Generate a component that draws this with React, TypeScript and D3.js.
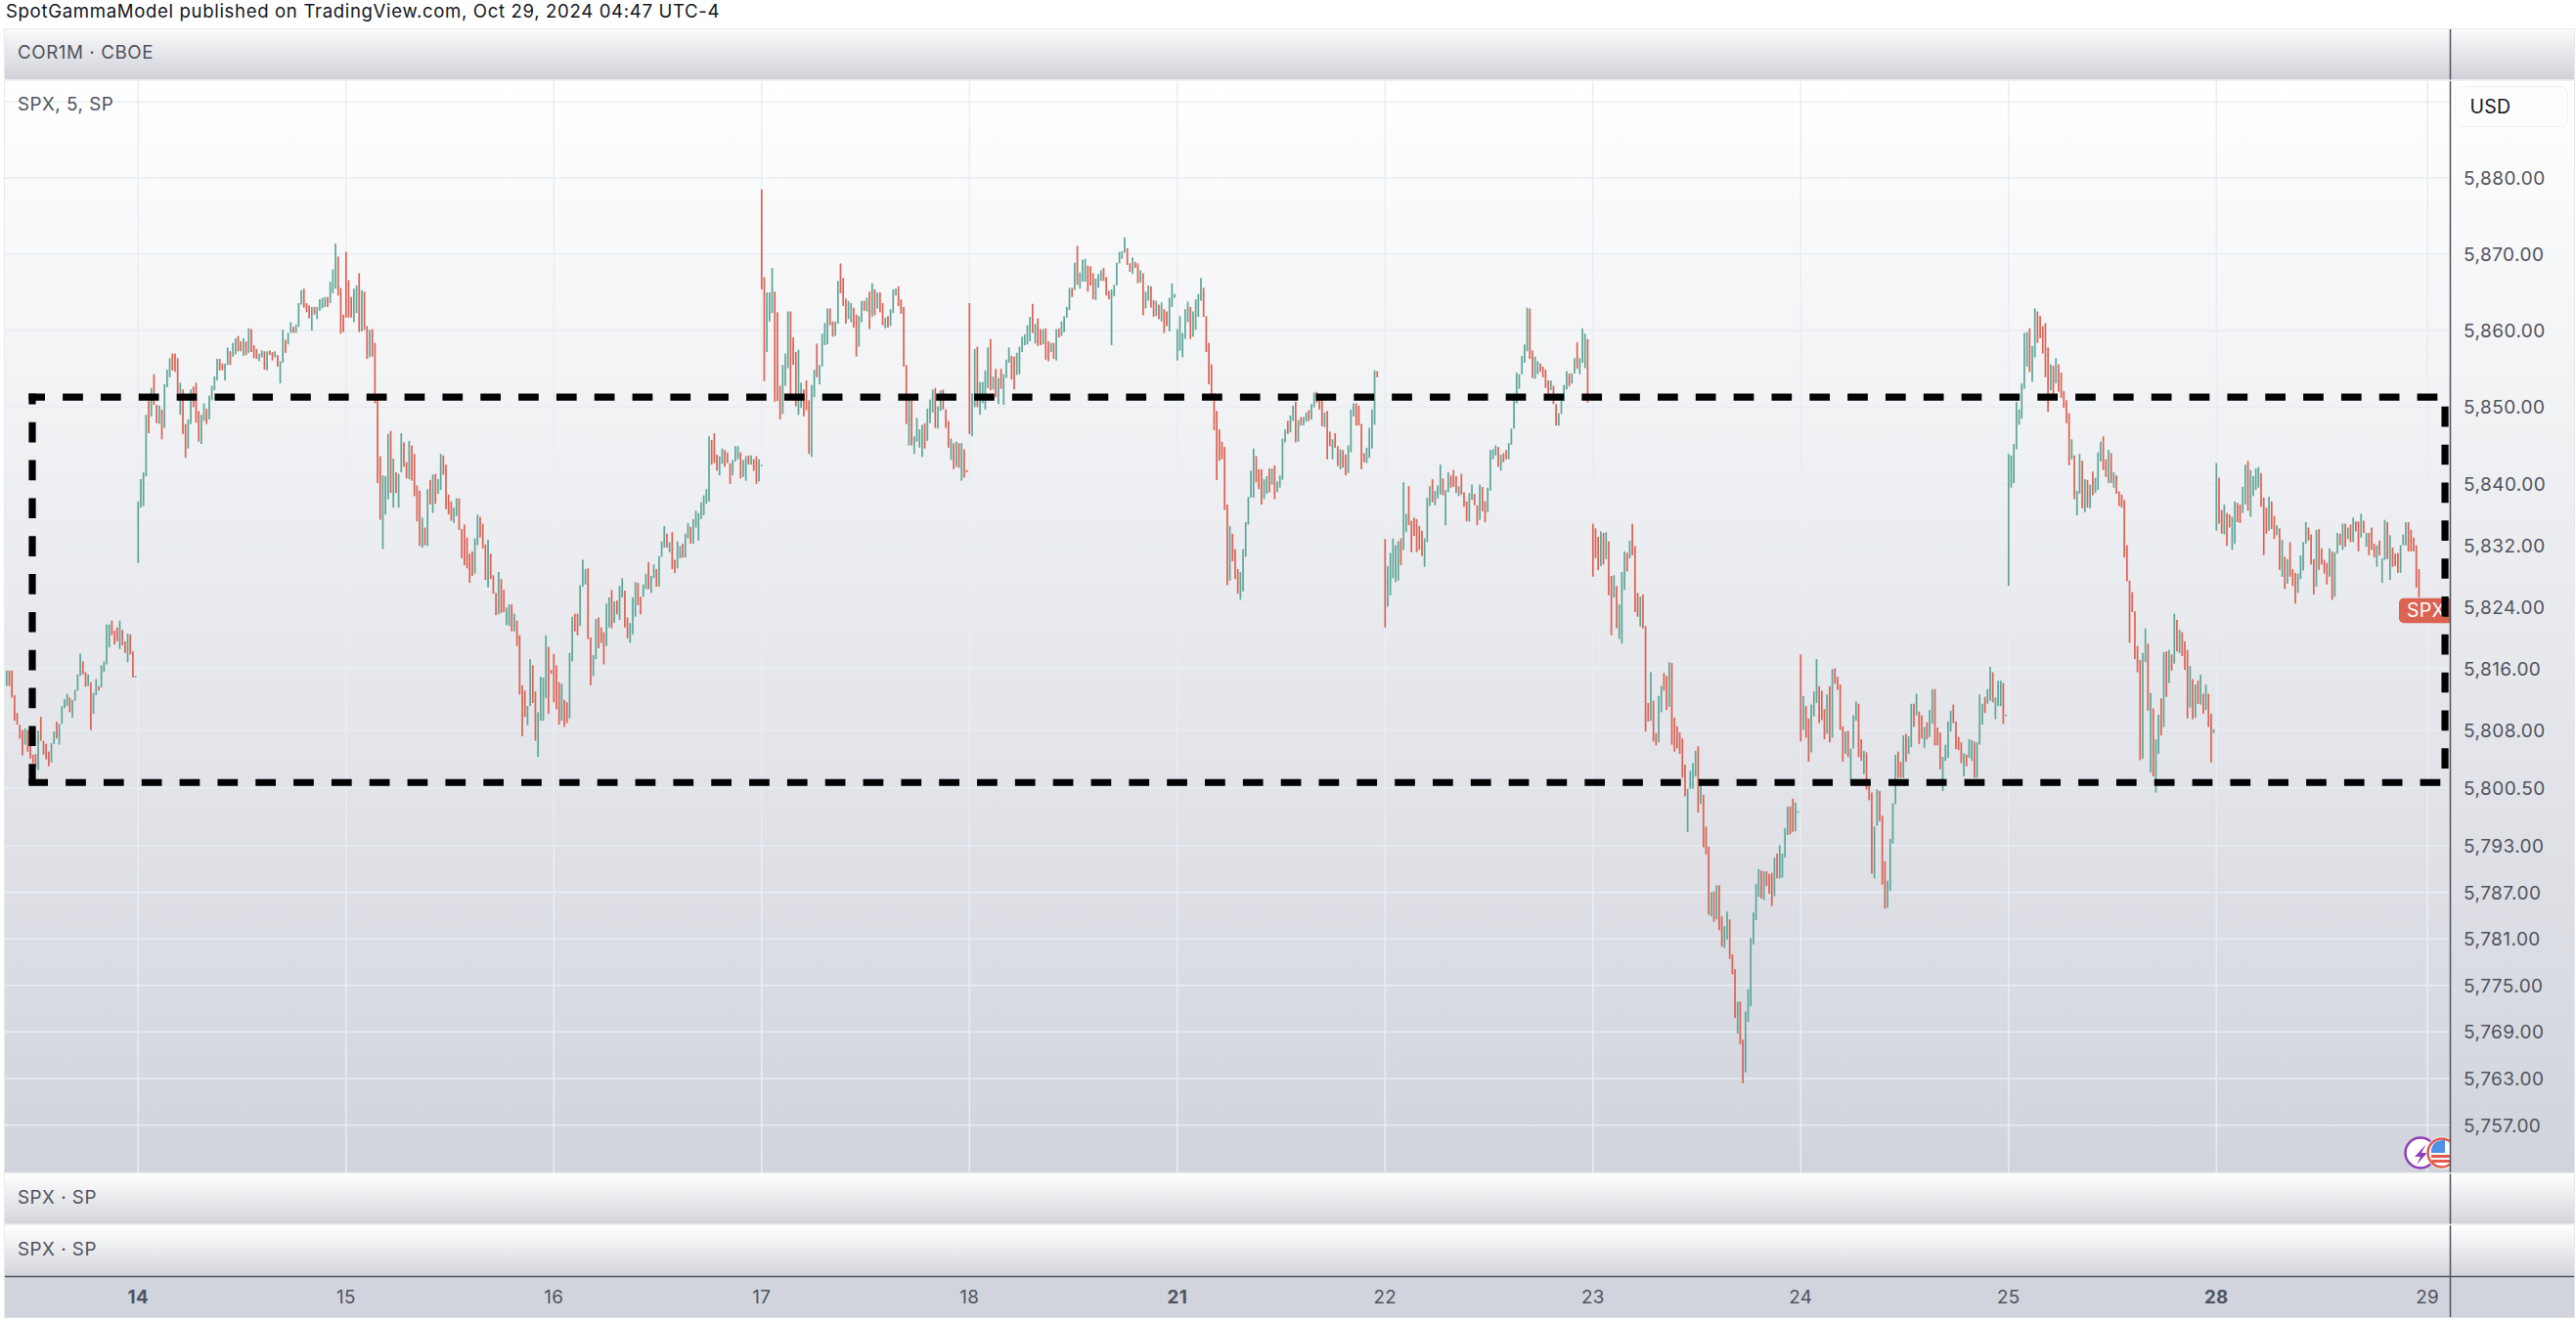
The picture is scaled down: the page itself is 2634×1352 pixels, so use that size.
import * as d3 from "d3";

// [high, low, up=1 / down=0] per 5 minute bar
type Bar = [number, number, number];

const oct11Bars: Bar[] = [
  [5815.7,5813.7,1],[5815.7,5813.7,0],[5815.7,5812.2,0],[5812.5,5809.2,0],[5810.2,5808.7,0],[5808.7,5806.9,0],[5808.0,5804.7,0],[5808.2,5806.1,1],[5808.0,5805.2,0],[5806.2,5804.3,0],
  [5804.8,5803.7,0],[5804.9,5803.2,0],[5807.9,5802.8,1],[5809.7,5806.6,0],[5806.6,5804.8,0],[5806.2,5804.2,0],[5805.2,5803.3,0],[5806.3,5803.8,1],[5807.8,5806.2,1],[5809.1,5806.9,0],
  [5808.8,5806.1,1],[5811.1,5808.8,1],[5812.0,5810.8,1],[5812.7,5811.1,1],[5812.2,5810.3,0],[5811.9,5809.6,1],[5813.2,5811.8,1],[5815.2,5813.1,1],[5817.9,5815.0,1],[5816.9,5815.2,0],
  [5815.5,5813.6,0],[5815.2,5813.7,1],[5814.2,5808.0,0],[5812.8,5810.1,1],[5814.6,5812.5,1],[5813.7,5813.1,0],[5816.4,5813.5,1],[5816.9,5815.5,1],[5821.7,5816.5,1],[5821.7,5818.7,1],
  [5822.2,5820.3,0],[5820.9,5819.1,0],[5821.3,5819.5,0],[5822.2,5818.5,1],[5821.0,5819.0,0],[5819.5,5818.0,0],[5820.5,5816.8,1],[5820.4,5817.8,0],[5818.2,5814.8,0],[5815.0,5814.8,1],
];

const oct14Bars: Bar[] = [
  [5837.7,5829.7,1],[5840.6,5836.9,1],[5841.5,5837.1,1],[5849.0,5841.0,1],[5850.8,5846.6,0],[5852.5,5848.8,1],[5854.3,5850.3,0],[5850.3,5847.9,0],[5850.2,5847.8,1],[5849.7,5845.8,0],
  [5853.0,5847.3,1],[5854.9,5852.6,1],[5856.4,5853.9,1],[5857.0,5854.8,0],[5857.0,5854.6,0],[5856.4,5851.8,0],[5853.2,5849.0,1],[5852.3,5846.5,0],[5847.8,5843.4,0],[5848.4,5844.6,1],
  [5852.3,5847.8,1],[5852.7,5850.0,0],[5853.2,5848.0,0],[5849.5,5845.5,0],[5849.0,5845.2,1],[5850.5,5848.2,1],[5849.8,5847.8,0],[5851.5,5848.4,1],[5852.8,5850.9,1],[5854.0,5852.2,1],
  [5856.3,5853.5,1],[5856.3,5854.8,0],[5855.7,5854.8,0],[5855.7,5853.5,1],[5857.8,5855.5,1],[5857.3,5855.5,0],[5858.4,5856.6,1],[5859.0,5856.9,1],[5859.3,5857.3,0],[5858.6,5857.3,0],
  [5859.0,5856.7,1],[5858.6,5856.8,0],[5860.3,5857.1,1],[5860.2,5857.2,0],[5858.1,5856.4,0],[5857.6,5856.3,0],[5857.0,5856.0,1],[5857.4,5856.5,1],[5857.3,5854.9,0],[5857.3,5854.8,1],
  [5857.4,5856.8,0],[5857.2,5856.1,0],[5857.3,5856.5,1],[5856.8,5855.3,0],[5856.0,5853.1,1],[5860.1,5855.8,1],[5858.8,5857.1,0],[5859.7,5858.2,1],[5861.1,5859.7,1],[5860.5,5859.7,0],
  [5860.8,5859.7,1],[5863.6,5860.5,1],[5865.3,5863.4,1],[5865.5,5863.0,0],[5863.6,5862.4,0],[5863.3,5861.6,0],[5863.1,5860.0,1],[5863.1,5862.1,0],[5863.1,5861.5,1],[5864.1,5862.6,1],
  [5864.3,5862.9,1],[5864.4,5863.1,1],[5864.4,5863.1,0],[5866.4,5863.6,1],[5868.0,5864.9,1],[5871.4,5865.5,1],[5869.7,5864.6,0],[5865.6,5859.6,0],[5862.1,5859.8,0],
];

const oct15Bars: Bar[] = [
  [5870.3,5861.7,0],[5866.6,5861.7,0],[5864.4,5861.7,0],[5865.5,5861.1,1],[5865.9,5862.3,1],[5867.5,5859.8,0],[5865.3,5859.9,1],[5865.1,5860.1,0],[5860.6,5856.3,0],[5860.1,5856.5,1],
  [5860.2,5856.6,0],[5858.4,5850.5,0],[5851.3,5840.1,0],[5843.6,5835.3,0],[5841.1,5831.5,1],[5841.0,5836.0,1],[5846.5,5838.0,1],[5846.9,5838.8,0],[5843.3,5836.9,1],[5841.5,5838.8,0],
  [5841.3,5836.9,1],[5846.6,5841.5,1],[5845.4,5842.2,0],[5842.8,5840.7,0],[5845.6,5840.6,1],[5845.0,5840.4,0],[5843.9,5838.4,0],[5839.8,5835.1,0],[5839.1,5831.9,0],[5835.6,5831.7,1],
  [5834.3,5832.0,0],[5839.3,5831.9,1],[5840.5,5837.3,0],[5841.2,5836.2,1],[5841.3,5837.4,0],[5840.6,5838.7,1],[5843.9,5839.2,1],[5843.7,5841.2,0],[5842.5,5836.7,0],[5838.6,5836.0,0],
  [5837.7,5835.2,0],[5836.9,5834.9,1],[5838.1,5835.8,1],[5838.1,5834.0,0],[5834.1,5830.3,0],[5834.7,5829.4,0],[5833.0,5829.0,0],[5830.9,5827.1,0],[5831.2,5828.0,0],[5832.9,5828.3,1],
  [5836.0,5832.0,1],[5835.7,5833.0,0],[5834.8,5831.6,0],[5832.1,5827.5,0],[5832.7,5826.5,1],[5830.9,5827.6,0],[5828.1,5825.7,0],[5825.8,5822.9,0],[5828.5,5823.0,1],[5827.6,5823.2,0],
  [5826.2,5823.3,0],[5823.9,5821.6,1],[5824.3,5821.5,1],[5824.3,5820.8,0],[5823.1,5820.8,1],[5822.2,5818.9,0],[5820.3,5812.6,0],[5813.8,5807.2,0],[5813.1,5809.7,0],[5811.1,5808.6,1],
  [5817.2,5811.1,1],[5816.4,5811.5,0],[5813.0,5806.6,0],[5810.3,5804.5,1],[5814.9,5809.2,1],[5814.8,5809.2,1],[5820.3,5812.1,1],[5818.8,5810.1,0],[5815.8,5815.3,0],
];

const oct16Bars: Bar[] = [
  [5817.9,5811.6,0],[5816.4,5810.7,0],[5814.2,5808.7,0],[5814.0,5809.2,1],[5811.9,5808.4,0],[5811.6,5808.9,0],[5818.0,5809.5,1],[5822.7,5816.9,1],[5823.1,5820.8,0],[5823.1,5820.3,0],
  [5826.8,5821.5,1],[5830.1,5826.6,1],[5828.9,5826.9,1],[5829.0,5819.8,0],[5820.0,5813.8,0],[5817.7,5815.0,1],[5822.4,5817.2,1],[5822.6,5818.6,0],[5821.3,5819.3,0],[5820.7,5816.5,0],
  [5824.4,5818.9,1],[5825.2,5821.3,1],[5826.2,5821.2,0],[5824.7,5821.9,1],[5824.8,5823.0,0],[5826.7,5822.3,1],[5827.7,5825.2,1],[5826.1,5821.3,0],[5822.6,5819.9,0],[5821.9,5819.3,1],
  [5825.2,5820.4,1],[5827.2,5822.7,1],[5827.1,5824.2,0],[5825.3,5823.0,0],[5826.9,5825.3,1],[5828.3,5826.3,1],[5829.8,5826.3,0],[5828.0,5825.8,1],[5829.5,5827.7,1],[5828.9,5826.6,0],
  [5830.6,5826.6,1],[5832.5,5830.5,1],[5834.5,5831.7,1],[5833.5,5831.7,0],[5832.4,5831.1,1],[5833.7,5828.9,0],[5830.1,5828.4,0],[5832.5,5829.0,1],[5831.9,5830.3,1],[5832.2,5830.4,0],
  [5833.5,5830.4,1],[5834.9,5832.9,1],[5834.4,5832.2,0],[5835.4,5832.2,1],[5836.5,5834.3,1],[5836.2,5832.6,1],[5837.6,5835.4,1],[5838.5,5835.9,1],[5839.3,5837.4,1],[5846.2,5837.7,1],
  [5845.7,5842.5,0],[5846.6,5842.7,0],[5843.8,5841.7,0],[5843.6,5841.1,1],[5844.6,5842.6,1],[5844.4,5842.2,0],[5844.1,5842.7,0],[5842.7,5840.0,0],[5843.1,5841.1,1],[5844.9,5842.9,1],
  [5844.9,5843.2,1],[5844.1,5840.7,0],[5843.1,5840.9,1],[5843.6,5840.4,1],[5843.7,5842.5,0],[5843.7,5842.5,1],[5843.2,5841.7,0],[5843.6,5840.0,0],[5843.2,5840.3,1],[5842.5,5842.3,1],
];

const oct17Bars: Bar[] = [
  [5878.5,5865.4,0],[5867.0,5853.4,0],[5865.0,5857.2,1],[5865.0,5861.2,1],[5868.2,5862.3,1],[5865.1,5850.7,0],[5862.4,5850.8,0],[5852.8,5848.4,0],[5855.5,5849.1,1],[5857.0,5852.8,1],
  [5862.5,5855.1,1],[5862.5,5851.5,0],[5859.1,5855.5,0],[5857.2,5850.1,0],[5857.5,5849.0,1],[5853.2,5849.9,1],[5852.3,5848.8,0],[5853.5,5849.6,0],[5850.9,5843.9,0],[5852.9,5843.5,1],
  [5854.9,5851.3,1],[5858.3,5853.9,0],[5855.5,5853.0,1],[5859.6,5855.3,1],[5861.0,5858.1,1],[5862.9,5858.2,1],[5862.9,5860.7,0],[5861.2,5859.2,0],[5861.2,5859.3,1],[5866.5,5860.9,1],
  [5868.8,5864.9,0],[5866.9,5863.2,0],[5864.2,5860.9,0],[5863.9,5861.5,1],[5863.6,5861.1,1],[5863.0,5860.4,0],[5862.1,5856.6,0],[5861.9,5857.9,1],[5863.9,5861.1,1],[5863.9,5862.6,0],
  [5864.3,5862.5,1],[5865.1,5860.2,0],[5866.2,5861.8,1],[5865.4,5862.0,0],[5865.0,5862.9,1],[5865.0,5862.4,0],[5863.6,5860.7,0],[5861.7,5860.3,1],[5861.9,5860.4,0],[5862.8,5860.6,1],
  [5865.4,5862.3,1],[5865.5,5864.6,1],[5865.8,5863.2,0],[5864.1,5862.2,0],[5863.1,5855.3,0],[5855.5,5847.8,0],[5851.0,5845.0,1],[5850.9,5845.0,0],[5846.2,5843.9,1],[5848.6,5845.5,1],
  [5847.1,5844.7,1],[5847.7,5843.5,1],[5847.9,5844.6,0],[5849.8,5845.6,1],[5851.0,5847.9,1],[5852.3,5849.3,1],[5852.5,5847.3,0],[5850.1,5847.2,1],[5852.2,5849.5,1],[5852.3,5849.7,0],
  [5849.7,5847.3,0],[5848.2,5844.7,0],[5845.9,5843.1,1],[5845.3,5841.9,0],[5845.5,5842.2,1],[5845.3,5842.1,0],[5845.3,5840.4,1],[5844.5,5840.8,0],[5841.8,5841.5,0],
];

const oct18Bars: Bar[] = [
  [5863.6,5846.5,0],[5851.8,5846.2,1],[5857.6,5850.0,1],[5857.9,5850.0,0],[5853.3,5849.0,1],[5853.3,5850.5,1],[5854.8,5849.7,1],[5857.8,5852.5,1],[5858.9,5852.2,0],[5854.0,5852.3,1],
  [5855.0,5851.3,0],[5853.8,5850.4,1],[5855.0,5852.4,0],[5854.3,5850.3,1],[5856.2,5853.8,1],[5857.8,5855.8,1],[5856.7,5853.6,0],[5856.6,5852.3,0],[5857.1,5854.2,1],[5857.9,5854.3,1],
  [5859.2,5857.2,1],[5859.5,5858.1,1],[5860.7,5858.2,1],[5861.8,5858.6,1],[5863.5,5859.7,0],[5860.9,5858.3,1],[5861.6,5858.0,0],[5860.2,5858.1,0],[5860.2,5858.2,1],[5860.3,5856.2,0],
  [5858.6,5856.0,0],[5858.4,5857.2,1],[5858.4,5856.3,0],[5860.2,5856.1,1],[5860.3,5859.1,0],[5861.2,5859.3,1],[5861.9,5859.8,1],[5863.1,5861.7,1],[5865.6,5862.7,1],[5865.6,5864.4,0],
  [5868.9,5865.3,1],[5871.1,5866.0,0],[5867.6,5865.5,1],[5869.3,5866.4,1],[5869.4,5866.4,1],[5868.5,5865.1,0],[5868.4,5865.9,0],[5867.5,5864.1,0],[5866.8,5864.0,1],[5867.4,5865.6,1],
  [5867.9,5866.5,1],[5868.2,5866.5,0],[5867.0,5864.6,0],[5865.2,5864.1,0],[5865.4,5858.1,1],[5866.0,5864.5,1],[5868.9,5865.9,1],[5870.3,5868.8,1],[5870.4,5869.4,1],[5872.2,5870.2,1],
  [5870.8,5868.6,0],[5868.8,5867.7,0],[5869.6,5867.4,1],[5869.0,5868.2,0],[5868.8,5866.2,0],[5867.9,5866.3,1],[5867.5,5862.0,0],[5865.1,5862.9,1],[5865.9,5863.9,1],[5865.8,5863.0,0],
  [5864.0,5861.8,0],[5863.9,5861.9,1],[5863.4,5861.5,0],[5863.7,5861.2,1],[5862.8,5859.7,0],[5862.5,5860.6,0],[5864.3,5859.9,1],[5866.2,5863.1,1],[5864.8,5864.3,1],
];

const oct21Bars: Bar[] = [
  [5860.2,5856.1,1],[5861.9,5857.4,1],[5859.7,5856.5,1],[5862.8,5858.9,1],[5863.8,5861.1,1],[5863.1,5858.9,0],[5862.5,5859.2,1],[5864.1,5860.1,1],[5864.8,5861.8,1],[5866.9,5863.9,1],
  [5865.6,5861.8,0],[5861.9,5857.2,0],[5858.4,5853.0,0],[5855.6,5851.6,0],[5851.8,5847.0,0],[5849.5,5840.5,0],[5847.1,5843.0,0],[5845.5,5843.2,0],[5844.8,5836.6,0],[5837.3,5826.8,0],
  [5834.5,5827.4,1],[5833.5,5829.9,0],[5831.5,5827.6,0],[5828.9,5825.7,0],[5828.5,5824.9,1],[5831.5,5826.0,1],[5835.0,5830.5,1],[5838.3,5834.7,1],[5841.7,5838.2,1],[5844.6,5838.2,1],
  [5843.6,5840.2,0],[5841.9,5839.3,0],[5841.9,5837.3,0],[5840.6,5838.0,1],[5841.0,5838.7,1],[5842.0,5838.9,0],[5842.0,5839.9,1],[5842.4,5838.0,0],[5840.3,5838.9,1],[5841.1,5839.5,1],
  [5845.9,5840.5,1],[5847.1,5845.4,1],[5848.2,5846.5,0],[5848.9,5846.7,1],[5850.2,5848.2,1],[5850.7,5845.4,0],[5848.3,5845.5,1],[5848.7,5847.6,0],[5848.7,5847.6,1],[5849.3,5848.1,1],
  [5849.6,5848.2,0],[5850.4,5848.4,1],[5851.9,5850.0,1],[5852.0,5850.6,0],[5850.9,5849.7,0],[5850.9,5847.5,0],[5849.3,5847.4,1],[5849.5,5843.2,0],[5846.8,5844.9,0],[5845.8,5843.2,1],
  [5846.6,5844.7,0],[5844.9,5842.3,0],[5844.5,5841.9,1],[5844.4,5842.1,0],[5843.8,5841.1,0],[5845.0,5841.4,1],[5849.7,5844.1,1],[5850.5,5848.8,1],[5850.5,5847.6,0],[5850.2,5847.6,0],
  [5847.8,5841.9,0],[5844.0,5842.8,0],[5844.7,5842.7,1],[5847.3,5843.4,1],[5849.7,5844.6,1],[5854.8,5847.7,1],[5854.7,5853.9,0],
];

const oct22Bars: Bar[] = [
  [5832.8,5821.3,0],[5829.3,5824.0,1],[5831.0,5825.5,1],[5832.9,5827.7,1],[5832.0,5827.2,1],[5832.5,5827.4,1],[5832.9,5829.4,0],[5840.2,5831.4,1],[5836.1,5833.7,1],[5839.7,5834.6,0],
  [5835.2,5831.1,0],[5835.6,5833.2,0],[5835.4,5831.1,0],[5834.5,5831.4,0],[5833.9,5830.6,0],[5832.9,5829.2,1],[5838.2,5832.4,1],[5839.7,5837.1,1],[5840.6,5837.6,0],[5839.1,5837.2,1],
  [5839.8,5838.1,1],[5842.5,5838.6,1],[5840.7,5838.5,0],[5839.2,5834.6,1],[5841.5,5838.9,1],[5841.1,5839.5,0],[5841.8,5839.6,0],[5841.0,5838.8,0],[5839.7,5838.4,1],[5841.3,5838.6,0],
  [5838.9,5837.0,0],[5837.7,5835.1,0],[5838.8,5835.1,1],[5839.9,5837.9,1],[5838.7,5837.2,0],[5837.2,5834.6,0],[5839.9,5835.3,1],[5839.6,5836.4,0],[5837.7,5835.0,0],[5839.5,5836.3,1],
  [5844.4,5839.1,1],[5844.5,5843.2,1],[5845.0,5843.7,1],[5844.8,5842.2,0],[5843.8,5841.7,1],[5844.0,5842.8,0],[5844.4,5843.2,0],[5845.3,5843.2,1],[5847.2,5845.1,1],[5850.9,5847.2,1],
  [5854.5,5850.5,1],[5854.3,5852.4,1],[5856.7,5854.3,1],[5858.2,5855.8,1],[5863.0,5857.3,1],[5862.9,5856.3,0],[5857.4,5853.8,0],[5856.6,5853.7,1],[5856.0,5854.3,1],[5855.7,5854.6,0],
  [5855.3,5853.9,0],[5854.9,5852.5,0],[5853.5,5851.8,0],[5853.5,5852.2,1],[5852.8,5850.4,0],[5850.4,5847.6,0],[5849.2,5847.6,1],[5850.8,5849.1,1],[5852.9,5850.8,1],[5854.7,5852.3,1],
  [5854.4,5852.7,0],[5854.4,5853.1,1],[5856.4,5854.4,1],[5858.5,5855.0,0],[5856.4,5854.3,1],[5860.3,5855.8,1],[5859.6,5855.1,1],[5858.9,5850.6,0],
];

const oct23Bars: Bar[] = [
  [5834.8,5827.9,0],[5834.2,5830.3,0],[5833.1,5828.8,0],[5833.8,5829.3,1],[5833.6,5829.5,0],[5833.7,5830.2,1],[5832.5,5825.5,0],[5828.0,5820.3,0],[5828.1,5825.2,1],[5826.7,5821.2,0],
  [5824.3,5819.8,1],[5828.5,5819.2,1],[5831.2,5826.2,1],[5831.0,5828.6,0],[5832.6,5830.3,1],[5834.8,5830.7,0],[5831.9,5823.3,0],[5825.8,5822.7,0],[5825.3,5821.4,1],[5825.6,5821.2,0],
  [5821.5,5807.8,0],[5811.5,5809.1,0],[5815.5,5809.2,1],[5811.8,5806.5,0],[5807.6,5806.0,0],[5812.4,5806.4,1],[5813.7,5810.3,1],[5815.4,5813.1,0],[5815.0,5810.6,0],[5816.8,5811.0,1],
  [5816.7,5806.1,0],[5809.6,5805.2,0],[5808.5,5805.6,0],[5807.7,5804.9,0],[5806.9,5801.8,0],[5803.5,5799.4,0],[5800.4,5794.8,1],[5802.7,5800.4,1],[5803.7,5800.4,1],[5805.3,5802.0,1],
  [5805.9,5797.3,0],[5801.3,5798.4,1],[5799.6,5792.8,0],[5795.5,5791.9,0],[5792.9,5784.1,0],[5787.0,5783.9,1],[5787.1,5783.2,0],[5787.9,5783.5,1],[5787.9,5782.1,0],[5783.9,5780.0,0],
  [5782.6,5779.8,1],[5784.5,5780.9,1],[5783.5,5778.4,0],[5779.0,5776.4,0],[5777.1,5770.8,0],[5772.9,5768.8,1],[5772.9,5767.4,0],[5768.0,5762.4,0],[5771.6,5763.8,1],[5774.5,5770.3,1],
  [5781.1,5772.3,1],[5784.4,5780.3,1],[5788.1,5783.4,1],[5790.0,5786.4,1],[5789.8,5786.2,0],[5789.7,5786.0,1],[5789.7,5787.8,0],[5789.4,5786.8,0],[5789.5,5785.2,0],[5791.5,5786.5,1],
  [5792.0,5788.8,0],[5793.1,5788.8,1],[5792.0,5788.9,1],[5795.3,5791.5,1],[5798.1,5794.4,1],[5798.1,5794.5,0],[5799.1,5794.8,0],[5798.6,5794.9,1],[5797.5,5797.3,1],
];

const oct24Bars: Bar[] = [
  [5817.8,5806.5,0],[5812.4,5808.0,1],[5811.1,5807.0,0],[5809.5,5803.9,0],[5811.3,5805.1,1],[5813.0,5809.8,1],[5817.2,5811.5,1],[5813.7,5808.9,0],[5813.1,5809.3,0],[5810.7,5806.8,0],
  [5812.6,5807.5,1],[5813.7,5806.4,0],[5815.9,5807.0,1],[5816.0,5814.0,0],[5814.9,5813.2,0],[5813.9,5808.0,0],[5808.5,5803.9,0],[5807.8,5804.9,1],[5807.9,5804.5,0],[5805.6,5801.0,1],
  [5809.9,5805.6,1],[5811.7,5809.2,1],[5811.4,5804.5,0],[5806.8,5804.0,0],[5805.3,5802.3,1],[5805.1,5800.3,0],[5800.8,5798.9,0],[5799.9,5789.4,0],[5795.5,5788.8,1],[5800.3,5795.6,1],
  [5800.1,5796.2,0],[5796.9,5788.0,0],[5791.0,5784.9,0],[5788.5,5785.0,1],[5793.9,5787.2,1],[5798.5,5793.3,1],[5804.8,5798.4,1],[5805.2,5801.8,0],[5803.9,5801.8,0],[5807.3,5801.8,1],
  [5807.5,5803.9,0],[5807.2,5804.9,1],[5811.4,5805.8,1],[5811.4,5808.4,0],[5812.7,5809.9,1],[5810.4,5806.2,0],[5809.9,5806.9,0],[5808.4,5805.7,1],[5809.0,5806.8,0],[5810.6,5807.1,1],
  [5813.3,5808.8,1],[5813.3,5806.0,0],[5808.3,5806.0,0],[5807.7,5802.9,0],[5804.5,5800.1,1],[5806.1,5804.0,1],[5809.1,5804.4,1],[5810.5,5807.8,1],[5811.3,5808.9,0],[5809.1,5805.5,0],
  [5807.1,5805.4,0],[5806.4,5803.7,0],[5805.0,5802.0,1],[5804.8,5803.3,0],[5806.8,5804.4,1],[5806.7,5804.0,1],[5806.5,5801.8,0],[5806.4,5801.8,1],[5812.6,5806.1,1],[5811.4,5808.7,1],
  [5812.3,5810.2,0],[5813.3,5811.4,1],[5816.2,5811.8,1],[5815.5,5811.6,0],[5812.2,5809.4,1],[5814.4,5811.1,1],[5814.4,5811.1,1],[5814.1,5808.8,0],[5810.0,5809.8,1],
];

const oct25Bars: Bar[] = [
  [5843.9,5826.7,1],[5843.7,5839.5,1],[5845.2,5840.1,1],[5850.7,5844.5,1],[5849.7,5847.7,1],[5853.1,5848.5,1],[5859.7,5852.4,1],[5859.8,5855.3,1],[5860.3,5854.6,0],[5858.0,5853.3,1],
  [5862.9,5856.5,1],[5862.5,5858.4,0],[5861.9,5859.0,0],[5860.6,5857.0,0],[5861.0,5853.9,0],[5857.8,5849.4,0],[5855.6,5852.2,1],[5855.4,5851.7,0],[5856.4,5853.1,1],[5855.6,5852.0,0],
  [5854.5,5851.2,0],[5852.1,5849.9,0],[5850.9,5847.9,0],[5849.2,5842.4,0],[5845.8,5843.2,1],[5843.7,5838.0,0],[5839.1,5835.9,1],[5843.9,5838.7,1],[5843.0,5836.8,0],[5840.6,5836.3,1],
  [5840.5,5836.9,0],[5839.9,5836.8,1],[5841.6,5838.5,0],[5840.8,5838.8,1],[5844.1,5839.2,1],[5845.5,5842.9,1],[5846.2,5841.8,0],[5843.2,5840.9,0],[5844.4,5840.1,1],[5844.0,5840.1,0],
  [5841.5,5839.5,1],[5841.1,5838.7,0],[5839.0,5837.1,0],[5838.6,5836.9,0],[5837.9,5830.4,0],[5832.0,5827.3,0],[5827.4,5819.3,0],[5825.9,5823.3,0],[5823.4,5817.2,0],[5818.9,5815.5,0],
  [5817.1,5804.1,0],[5818.0,5804.3,1],[5821.2,5816.8,1],[5819.2,5810.5,0],[5812.8,5802.5,1],[5810.8,5802.0,0],[5806.8,5799.9,1],[5810.0,5804.9,1],[5812.1,5807.3,0],[5818.1,5808.4,1],
  [5818.2,5812.3,0],[5818.4,5814.1,1],[5817.8,5815.7,0],[5823.1,5816.6,1],[5822.3,5818.2,0],[5821.0,5818.0,1],[5820.7,5817.6,0],[5819.5,5815.8,0],[5818.4,5809.5,0],[5816.3,5810.9,1],
  [5814.6,5809.4,0],[5813.9,5809.6,1],[5814.4,5811.4,0],[5815.2,5811.3,1],[5812.7,5810.1,0],[5813.9,5810.6,1],[5812.7,5808.4,0],[5810.1,5803.8,0],[5808.1,5807.6,1],
];

const oct28Bars: Bar[] = [
  [5842.7,5833.9,1],[5840.8,5834.8,0],[5836.6,5833.5,0],[5837.3,5833.4,1],[5836.2,5831.9,0],[5836.0,5834.3,0],[5835.7,5831.4,1],[5837.7,5832.2,1],[5837.5,5835.0,0],[5837.3,5834.9,0],
  [5839.6,5836.2,1],[5842.5,5837.3,1],[5843.0,5836.5,0],[5841.8,5835.7,1],[5841.0,5838.4,1],[5842.0,5839.2,1],[5842.2,5839.5,1],[5841.4,5837.0,0],[5838.2,5830.7,0],[5836.9,5833.5,0],
  [5838.3,5833.9,1],[5837.7,5834.1,0],[5835.8,5832.8,0],[5834.6,5833.3,1],[5834.2,5828.8,0],[5832.7,5827.9,1],[5830.5,5826.3,0],[5830.2,5827.0,1],[5832.4,5827.9,0],[5828.9,5826.7,0],
  [5828.4,5824.4,0],[5828.3,5825.8,1],[5830.7,5827.6,1],[5832.4,5828.7,1],[5835.0,5832.2,1],[5834.3,5832.6,0],[5833.4,5829.5,0],[5830.2,5825.6,0],[5834.0,5826.6,1],[5834.1,5828.8,0],
  [5831.6,5829.5,0],[5830.1,5828.3,0],[5829.7,5826.9,0],[5831.6,5827.9,1],[5831.2,5824.9,0],[5831.1,5825.3,1],[5833.6,5830.9,1],[5833.5,5832.0,0],[5834.8,5831.4,1],[5834.8,5831.8,0],
  [5834.3,5832.8,1],[5834.7,5832.4,0],[5835.6,5832.4,1],[5835.1,5833.8,0],[5835.1,5831.2,0],[5836.1,5833.0,1],[5835.2,5833.6,0],[5833.6,5831.8,1],[5833.6,5830.7,0],[5834.3,5831.4,0],
  [5832.2,5830.4,0],[5832.0,5829.2,1],[5832.6,5830.7,0],[5830.3,5827.1,1],[5835.3,5830.1,1],[5835.0,5830.2,0],[5833.3,5827.5,1],[5831.7,5829.2,0],[5830.9,5829.3,0],[5831.0,5828.4,0],
  [5832.0,5828.4,1],[5833.4,5832.0,1],[5835.0,5832.0,1],[5835.0,5831.2,0],[5834.0,5831.2,0],[5833.0,5831.2,0],[5832.0,5826.5,0],[5828.9,5825.2,0],
];

const sessions: { day: number; firstSlot: number; bars: Bar[] }[] = [
  { day: -1, firstSlot: 29, bars: oct11Bars },
  { day: 0, firstSlot: 0, bars: oct14Bars },
  { day: 1, firstSlot: 0, bars: oct15Bars },
  { day: 2, firstSlot: 0, bars: oct16Bars },
  { day: 3, firstSlot: 0, bars: oct17Bars },
  { day: 4, firstSlot: 0, bars: oct18Bars },
  { day: 5, firstSlot: 0, bars: oct21Bars },
  { day: 6, firstSlot: 0, bars: oct22Bars },
  { day: 7, firstSlot: 0, bars: oct23Bars },
  { day: 8, firstSlot: 0, bars: oct24Bars },
  { day: 9, firstSlot: 0, bars: oct25Bars },
  { day: 10, firstSlot: 0, bars: oct28Bars },
];

const SLOTS_PER_DAY = 79;
const priceTicks = [5880, 5870, 5860, 5850, 5840, 5832, 5824, 5816, 5808, 5800.5, 5793, 5787, 5781, 5775, 5769, 5763, 5757];
const hiddenPriceTick = 5890;
const dayLabels = ["14", "15", "16", "17", "18", "21", "22", "23", "24", "25", "28", "29"];
const boldDays = ["14", "21", "28"];
const dayTicks = [0, 1, 2, 3, 4, 5, 6, 7, 8, 9, 10, 11.016];
const boxPrices = [5851.3, 5801.2];
const boxDays = [-0.5096, 11.1];

const WIDTH = 2634;
const HEIGHT = 1352;
const FONT = "Inter, 'Noto Sans', sans-serif";
const UP = "#5da597";
const DOWN = "#dc6152";
const TEXT = "#50535e";

const LEFT = 5;
const AXIS_X = 2505.5;
const RIGHT = 2632;
const PANE_TOP = 83;
const PANE_BOTTOM = 1199;
const TIME_TOP = 1305.5;

export default function App() {
  // the price axis is logarithmic, the tick spacing shrinks slightly going up
  const y = d3.scaleLog().domain([5880, 5763]).range([182, 1103]);
  const x = d3.scaleLinear().domain([0, 11]).range([141.3, 2478.8]);

  const barWidth = 1.7;
  const allBars = sessions.flatMap((s) =>
    s.bars.map((b, i) => ({
      x: x(s.day + (s.firstSlot + i) / SLOTS_PER_DAY),
      high: b[0],
      low: b[1],
      up: b[2] === 1,
    }))
  );

  const boxLeft = x(boxDays[0]);
  const boxRight = x(boxDays[1]);
  const boxTop = y(boxPrices[0]);
  const boxBottom = y(boxPrices[1]);
  const dash = "20.7 18.13";

  const strip = (top: number, bottom: number, fill: string, key: string) => (
    <rect key={key} x={LEFT} y={top} width={RIGHT - LEFT} height={bottom - top} fill={fill} />
  );

  return (
    <svg
      width={WIDTH}
      height={HEIGHT}
      style={{ position: "absolute", left: 0, top: 0, display: "block", background: "#fff" }}
    >
      <defs>
        <linearGradient id="pane" x1="0" y1="0" x2="0" y2="1">
          <stop offset="0" stopColor="#ffffff" />
          <stop offset="1" stopColor="#d1d4dc" />
        </linearGradient>
        <linearGradient id="topStrip" x1="0" y1="0" x2="0" y2="1">
          <stop offset="0" stopColor="#fafafb" />
          <stop offset="1" stopColor="#cfd1d8" />
        </linearGradient>
        <linearGradient id="lowStrip" x1="0" y1="0" x2="0" y2="1">
          <stop offset="0" stopColor="#ffffff" />
          <stop offset="1" stopColor="#d3d5db" />
        </linearGradient>
        <clipPath id="plot">
          <rect x={LEFT} y={PANE_TOP} width={AXIS_X - LEFT - 0.5} height={PANE_BOTTOM - PANE_TOP} />
        </clipPath>
      </defs>

      <text x={6} y={17.5} fontFamily={FONT} fontSize={18.6} letterSpacing={0.65} fill="#131722">
        SpotGammaModel published on TradingView.com, Oct 29, 2024 04:47 UTC-4
      </text>

      <rect x={LEFT - 0.5} y={29.5} width={RIGHT - LEFT + 1} height={1318} fill="none" stroke="#e8e9eb" />
      {strip(30, 81.5, "url(#topStrip)", "s1")}
      {strip(PANE_TOP, PANE_BOTTOM, "url(#pane)", "pane")}
      {strip(1200.5, 1251.7, "url(#lowStrip)", "s2")}
      {strip(1253.3, TIME_TOP, "url(#lowStrip)", "s3")}
      {strip(TIME_TOP, 1347.3, "#d1d4dc", "time")}

      <g clipPath="url(#plot)">
        {[hiddenPriceTick, ...priceTicks].map((p) => (
          <rect key={p} x={LEFT} y={y(p) - 0.75} width={AXIS_X - LEFT} height={1.5} fill="#e8edf4" />
        ))}
        {dayTicks.map((d) => (
          <rect key={d} x={x(d) - 0.75} y={PANE_TOP} width={1.5} height={PANE_BOTTOM - PANE_TOP} fill="#e8edf4" />
        ))}
        {allBars.map((b, i) => (
          <rect
            key={i}
            x={b.x - barWidth / 2}
            y={y(b.high)}
            width={barWidth}
            height={Math.max(y(b.low) - y(b.high), 1.5)}
            fill={b.up ? UP : DOWN}
          />
        ))}

        {/* SPX tag sits under the drawn box */}
        <path d="M2505 611.7H2458a5 5 0 0 0 -5 5V632.3a5 5 0 0 0 5 5H2505Z" fill="#da6352" />
        <text x={2461} y={631} fontFamily={FONT} fontSize={19.5} letterSpacing={0.3} fill="#fff">
          SPX
        </text>

        <g stroke="#000" strokeWidth={7.2} fill="none">
          <line x1={boxLeft - 3.6} x2={boxRight + 3.6} y1={boxTop} y2={boxTop} strokeDasharray={dash} strokeDashoffset={4.1} />
          <line x1={boxLeft - 3.6} x2={boxRight + 3.6} y1={boxBottom} y2={boxBottom} strokeDasharray={dash} strokeDashoffset={1.1} />
          <line x1={boxLeft} x2={boxLeft} y1={boxTop - 3.6} y2={boxBottom + 3.6} strokeDasharray={dash} strokeDashoffset={9.7} />
          <line x1={boxRight} x2={boxRight} y1={boxTop} y2={boxBottom + 3.6} strokeDasharray={dash} strokeDashoffset={29.2} />
        </g>

        {/* event markers */}
        <circle cx={2475} cy={1179} r={15.5} fill="#fff" stroke="#8e3fb5" strokeWidth={2.5} />
        <path d="M2481 1170l-12 13h6l-4 8 11-12h-6z" fill="#8e3fb5" />
        <circle cx={2497} cy={1179} r={16.5} fill="#fff" />
        <circle cx={2497} cy={1179} r={14.5} fill="#fff" stroke="#e05a50" strokeWidth={2.5} />
        <path d="M2486 1175a11.5 11.5 0 0 1 11-9h3v13h-14z" fill="#4f8fe8" />
        <rect x={2486} y={1181} width={20} height={3} fill="#e05a50" />
        <rect x={2487} y={1186} width={20} height={3} fill="#e05a50" />
      </g>

      <text x={18} y={59.5} fontFamily={FONT} fontSize={18.8} letterSpacing={0.55} fill={TEXT}>
        COR1M · CBOE
      </text>
      <text x={18} y={113} fontFamily={FONT} fontSize={18.8} letterSpacing={0.5} fill={TEXT}>
        SPX, 5, SP
      </text>
      <text x={18} y={1231} fontFamily={FONT} fontSize={18.8} letterSpacing={0.5} fill={TEXT}>
        SPX · SP
      </text>
      <text x={18} y={1284} fontFamily={FONT} fontSize={18.8} letterSpacing={0.5} fill={TEXT}>
        SPX · SP
      </text>

      {priceTicks.map((p) => (
        <text key={p} x={2519} y={y(p) + 7} fontFamily={FONT} fontSize={19} letterSpacing={0.45} fill={TEXT}>
          {d3.format(",.2f")(p)}
        </text>
      ))}

      <rect x={2510.5} y={88.5} width={115} height={41} rx={7} fill="#fdfdfd" stroke="#eef0f3" />
      <text x={2525.5} y={115.5} fontFamily={FONT} fontSize={19.5} letterSpacing={0.3} fill="#131722">
        USD
      </text>

      {dayLabels.map((label, i) => (
        <text
          key={label}
          x={x(dayTicks[i])}
          y={1333}
          textAnchor="middle"
          fontFamily={FONT}
          fontSize={18.8}
          fontWeight={boldDays.includes(label) ? 700 : 400}
          letterSpacing={0.3}
          fill={TEXT}
        >
          {label}
        </text>
      ))}

      <line x1={AXIS_X} x2={AXIS_X} y1={30} y2={1347} stroke="#50535e" strokeWidth={1.5} />
      <line x1={LEFT} x2={RIGHT} y1={TIME_TOP} y2={TIME_TOP} stroke="#50535e" strokeWidth={1.5} />
      <rect x={LEFT} y={81.5} width={RIGHT - LEFT} height={1.5} fill="#f0f1f4" />
      <rect x={LEFT} y={PANE_BOTTOM} width={RIGHT - LEFT} height={1.5} fill="#f0f1f4" />
      <rect x={LEFT} y={1251.7} width={RIGHT - LEFT} height={1.6} fill="#f0f1f4" />
    </svg>
  );
}
